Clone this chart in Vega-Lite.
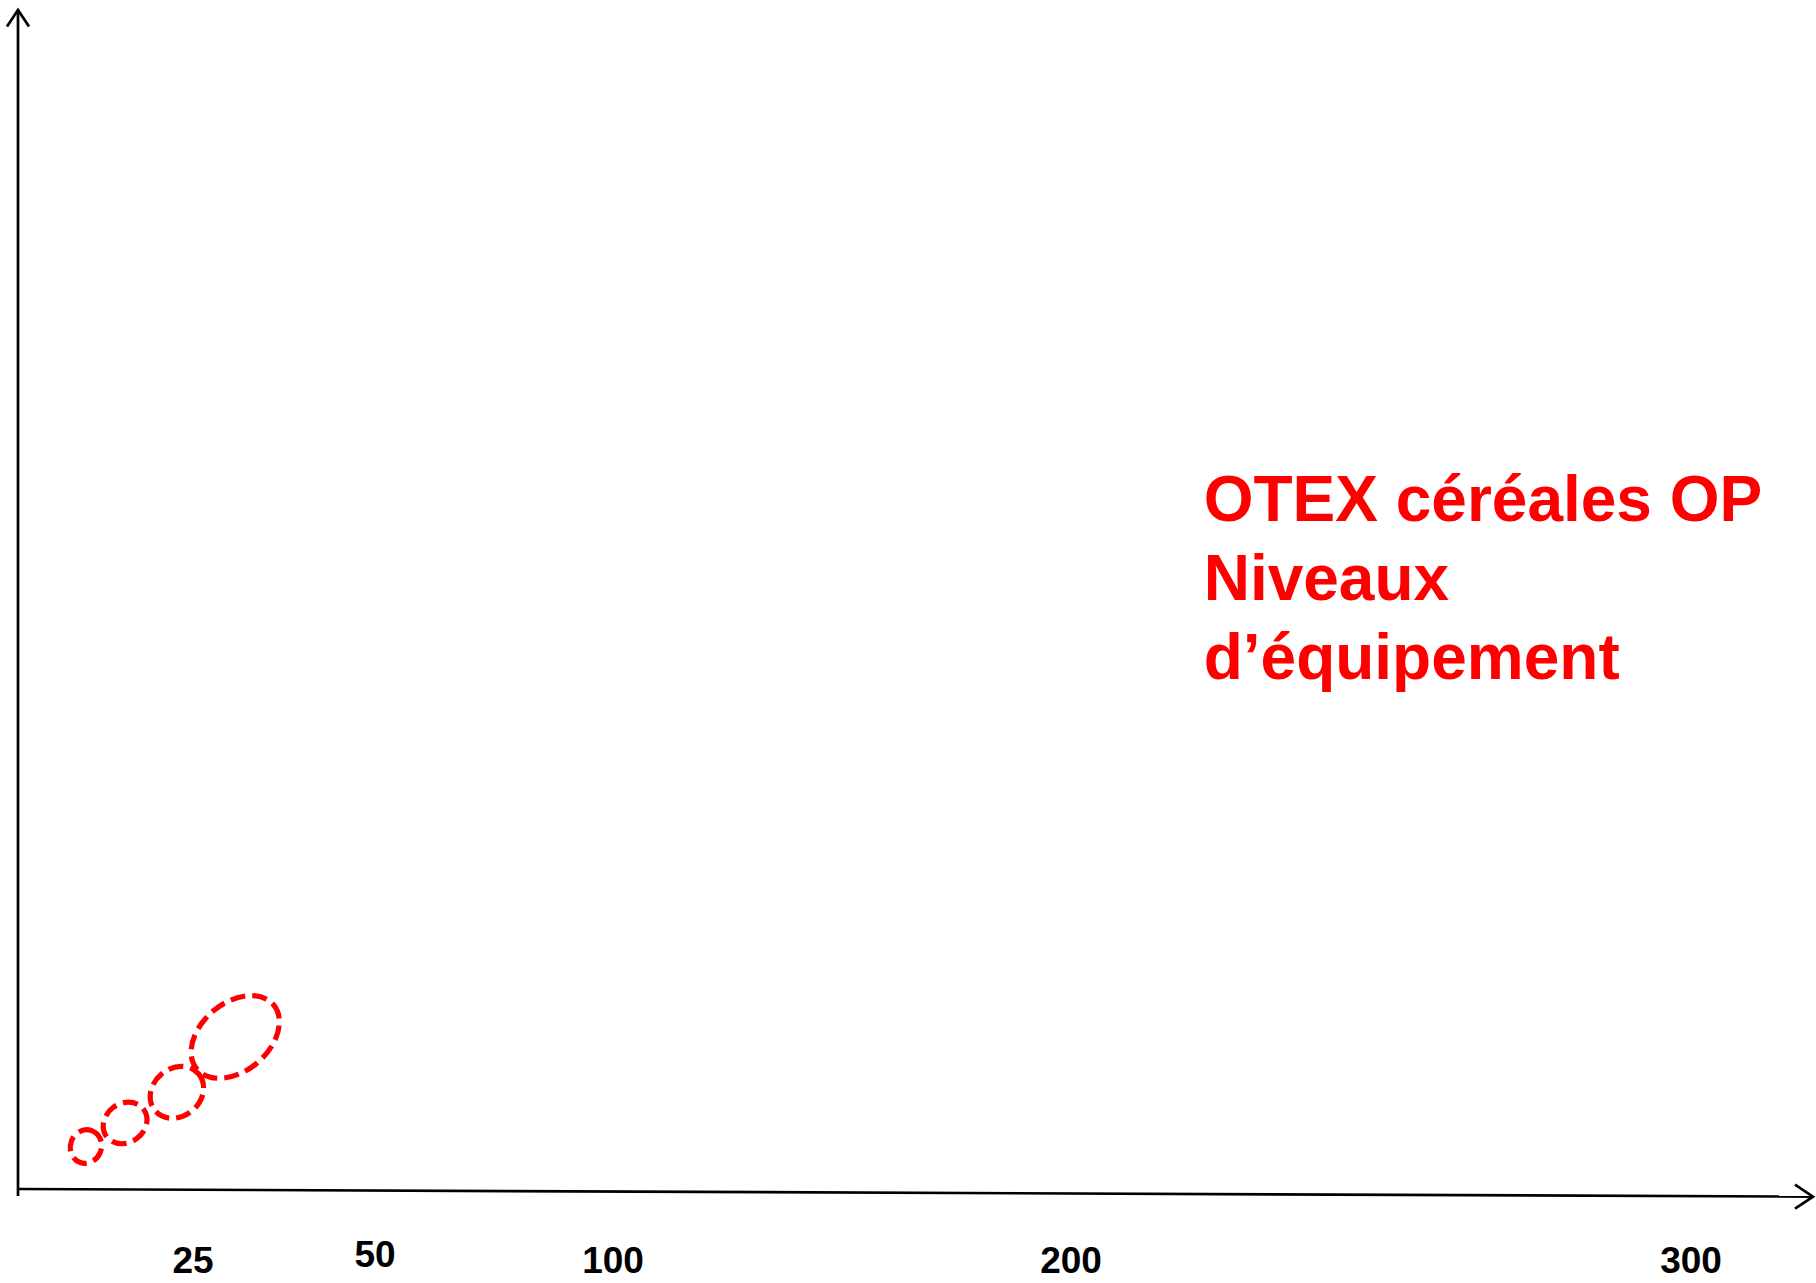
{
  "$schema": "https://vega.github.io/schema/vega-lite/v6.json",
  "width": 1816,
  "height": 1283,
  "autosize": {"type": "none"},
  "padding": 0,
  "background": "white",
  "config": {"view": {"stroke": null}},
  "datasets": {
    "axes": [
      {"axe": "abscisses", "x": 0, "y": 0, "x2": 330, "y2": -0.65},
      {"axe": "ordonnées", "x": 0, "y": -0.6, "x2": 0, "y2": 100}
    ],
    "fleches": [
      {"axe": "abscisses", "x": 330, "y": -0.65},
      {"axe": "ordonnées", "x": 0, "y": 100}
    ],
    "niveaux": [
      {"classe": "E1", "x": 9.7, "y": 3.6, "etendue": 34, "orientation": 290},
      {"classe": "E2", "x": 15.3, "y": 5.6, "etendue": 46, "orientation": 325},
      {"classe": "E3", "x": 22.7, "y": 8.2, "etendue": 57, "orientation": 320},
      {"classe": "E4", "x": 30.8, "y": 12.9, "etendue": 100, "orientation": 320}
    ],
    "graduations": [
      {"x": 25, "y": -7.1, "etiquette": "25"},
      {"x": 50, "y": -6.6, "etiquette": "50"},
      {"x": 100, "y": -7.1, "etiquette": "100"},
      {"x": 200, "y": -7.1, "etiquette": "200"},
      {"x": 300, "y": -7.1, "etiquette": "300"}
    ],
    "titre": [
      {"x": 221.4, "y": 56.7, "texte": "OTEX céréales OP\nNiveaux\nd’équipement"}
    ]
  },
  "encoding": {
    "x": {
      "field": "x", "type": "quantitative", "axis": null,
      "scale": {"domain": [0, 25, 50, 100, 200, 300, 330], "range": [18, 193, 375, 613, 1071, 1691, 1813], "zero": false, "nice": false}
    },
    "y": {
      "field": "y", "type": "quantitative", "axis": null,
      "scale": {"domain": [0, 100], "range": [1189, 10], "zero": false, "nice": false}
    }
  },
  "layer": [
    {
      "data": {"name": "axes"},
      "mark": {"type": "rule", "stroke": "black", "strokeWidth": 2.7},
      "encoding": {
        "x2": {"field": "x2"},
        "y2": {"field": "y2"}
      }
    },
    {
      "data": {"name": "fleches"},
      "transform": [{"filter": "datum.axe == 'abscisses'"}],
      "mark": {"type": "point", "shape": "M -1.5 -1 L 0 0 L -1.5 1", "filled": false, "stroke": "black", "strokeWidth": 2.7, "size": 576, "angle": 0, "opacity": 1}
    },
    {
      "data": {"name": "fleches"},
      "transform": [{"filter": "datum.axe == 'ordonnées'"}],
      "mark": {"type": "point", "shape": "M -1.5 -1 L 0 0 L -1.5 1", "filled": false, "stroke": "black", "strokeWidth": 2.7, "size": 484, "angle": 270, "opacity": 1}
    },
    {
      "data": {"name": "niveaux"},
      "mark": {"type": "point", "filled": false, "stroke": "#FF0000", "strokeWidth": 5.2, "strokeDash": [15, 7], "opacity": 1},
      "encoding": {
        "shape": {
          "field": "classe", "type": "nominal", "legend": null,
          "scale": {
            "domain": ["E1", "E2", "E3", "E4"],
            "range": [
              "M 1 0 C 1 0.502 0.552 0.91 0 0.91 C -0.552 0.91 -1 0.502 -1 0 C -1 -0.502 -0.552 -0.91 0 -0.91 C 0.552 -0.91 1 -0.502 1 0 Z",
              "M 1 0 C 1 0.469 0.552 0.85 0 0.85 C -0.552 0.85 -1 0.469 -1 0 C -1 -0.469 -0.552 -0.85 0 -0.85 C 0.552 -0.85 1 -0.469 1 0 Z",
              "M 1 0 C 1 0.464 0.552 0.84 0 0.84 C -0.552 0.84 -1 0.464 -1 0 C -1 -0.464 -0.552 -0.84 0 -0.84 C 0.552 -0.84 1 -0.464 1 0 Z",
              "M 1 0 C 1 0.376 0.552 0.68 0 0.68 C -0.552 0.68 -1 0.376 -1 0 C -1 -0.376 -0.552 -0.68 0 -0.68 C 0.552 -0.68 1 -0.376 1 0 Z"
            ]
          }
        },
        "size": {
          "field": "etendue", "type": "quantitative", "legend": null,
          "scale": {"type": "pow", "exponent": 2, "domain": [0, 100], "range": [0, 10000], "zero": true, "nice": false}
        },
        "angle": {
          "field": "orientation", "type": "quantitative", "legend": null,
          "scale": {"domain": [0, 360], "range": [0, 360], "nice": false}
        }
      }
    },
    {
      "data": {"name": "graduations"},
      "mark": {"type": "text", "font": "Liberation Sans", "fontWeight": "bold", "fontSize": 37, "fill": "black", "align": "center", "baseline": "alphabetic"},
      "encoding": {"text": {"field": "etiquette"}}
    },
    {
      "data": {"name": "titre"},
      "mark": {"type": "text", "font": "Liberation Sans", "fontWeight": "bold", "fontSize": 64, "fill": "#FF0000", "align": "left", "baseline": "alphabetic", "lineBreak": "\n", "lineHeight": 79},
      "encoding": {"text": {"field": "texte"}}
    }
  ]
}
